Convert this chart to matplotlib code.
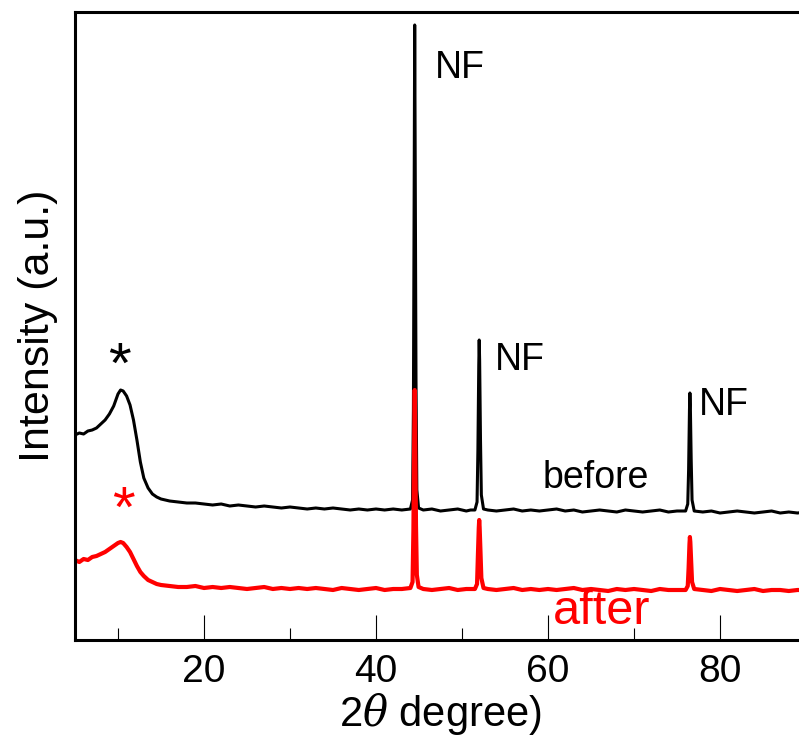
import matplotlib
matplotlib.use("Agg")
import matplotlib.pyplot as plt
from matplotlib.ticker import MultipleLocator

plt.rcParams['font.family'] = ['Liberation Sans', 'DejaVu Sans']
plt.rcParams['mathtext.fontset'] = 'dejavuserif'

# 2-theta grid (degrees), shared by both patterns
two_theta = [5.0, 5.5, 6.0, 6.5, 7.0, 7.5, 8.0, 8.5, 9.0, 9.5, 10.0, 10.3, 10.6,
             11.0, 11.4, 11.8, 12.2, 12.6, 13.0, 13.5, 14.0, 14.5, 15.0,
             16, 17, 18, 19, 20, 21, 22, 23, 24, 25, 26, 27, 28, 29, 30, 31,
             32, 33, 34, 35, 36, 37, 38, 39, 40, 41, 42, 43,
             44.0, 44.25, 44.35, 44.45, 44.5, 44.55, 44.65, 44.75, 44.95,
             45.5, 46.5, 47.5, 48.5, 49.5, 50.5, 51.0,
             51.5, 51.75, 51.85, 51.95, 52.0, 52.05, 52.15, 52.25, 52.5,
             53, 54, 55, 56, 57, 58, 59, 60, 61, 62, 63, 64, 65, 66, 67, 68,
             69, 70, 71, 72, 73, 74, 75,
             76.0, 76.25, 76.35, 76.45, 76.5, 76.55, 76.65, 76.75, 77.0,
             78, 79, 80, 81, 82, 83, 84, 85, 86, 87, 88, 89, 90]

before = [205, 207, 206, 209, 210, 212, 216, 220, 226, 234, 246, 250, 249,
          244, 235, 220, 200, 178, 162, 152, 146, 143, 141,
          139, 138, 137, 137, 136, 135, 136, 134, 135, 134, 133, 134, 133, 132,
          133, 132, 131, 132, 131, 132, 131, 130, 131, 130, 131, 130, 131, 130,
          131, 140, 230, 480, 615, 500, 260, 150, 132,
          130, 131, 129, 130, 131, 129, 130,
          130, 138, 190, 275, 300, 280, 200, 145, 131,
          130, 129, 130, 131, 129, 130, 129, 130, 131, 129, 130, 128, 129, 130,
          129, 128, 130, 129, 128, 129, 130, 128, 129,
          129, 136, 170, 230, 247, 235, 180, 140, 129,
          128, 129, 127, 128, 129, 128, 127, 128, 129, 127, 128, 127, 128]

after = [80, 78, 81, 80, 83, 84, 86, 88, 91, 94, 97, 98, 97,
         93, 88, 81, 74, 68, 64, 60, 58, 56, 55,
         54, 53, 53, 54, 52, 53, 52, 53, 52, 51, 52, 53, 51, 52,
         51, 52, 51, 52, 51, 50, 52, 51, 50, 51, 52, 50, 51, 51,
         52, 58, 110, 210, 250, 215, 115, 65, 53,
         51, 50, 51, 52, 50, 51, 51,
         51, 56, 85, 112, 120, 113, 88, 62, 52,
         51, 50, 51, 52, 50, 51, 50, 51, 50, 51, 52, 50, 51, 50,
         49, 51, 50, 51, 50, 49, 51, 50, 50,
         50, 54, 72, 96, 103, 98, 78, 58, 51,
         50, 49, 51, 50, 49, 50, 51, 49, 50, 50, 49, 50, 50]

fig = plt.figure(figsize=(7.99, 7.51), dpi=100)
ax = fig.add_axes([75 / 799, 111 / 751, 731 / 799, 628 / 751])

ax.plot(two_theta, before, color='black', lw=2.2)
ax.plot(two_theta, after, color='red', lw=3.0)

ax.set_xlim(5, 90)
ax.set_ylim(0, 628)

ax.xaxis.set_major_locator(MultipleLocator(20))
ax.xaxis.set_minor_locator(MultipleLocator(10))
ax.tick_params(axis='x', which='major', direction='in', length=18, width=0.8,
               labelsize=28, pad=10)
ax.tick_params(axis='x', which='minor', direction='in', length=9, width=0.8)
ax.set_yticks([])
for side in ['left', 'bottom', 'top', 'right']:
    ax.spines[side].set_linewidth(2.2)

ax.set_xlabel(r'2$\theta$ degree)', fontsize=30, labelpad=1)
ax.set_ylabel('Intensity (a.u.)', fontsize=31, labelpad=12)

# peak and phase annotations
ax.text(10.2, 272, '*', fontsize=42, color='black', ha='center', va='center')
ax.text(10.6, 128, '*', fontsize=42, color='red', ha='center', va='center')
ax.text(46.9, 572, 'NF', fontsize=27, ha='left', va='center')
ax.text(53.8, 280, 'NF', fontsize=27, ha='left', va='center')
ax.text(77.6, 235, 'NF', fontsize=27, ha='left', va='center')
ax.text(59.4, 162, 'before', fontsize=27, ha='left', va='center')
ax.text(60.6, 28, 'after', fontsize=35, color='red', ha='left', va='center')

fig.savefig('out.png', dpi=100)
